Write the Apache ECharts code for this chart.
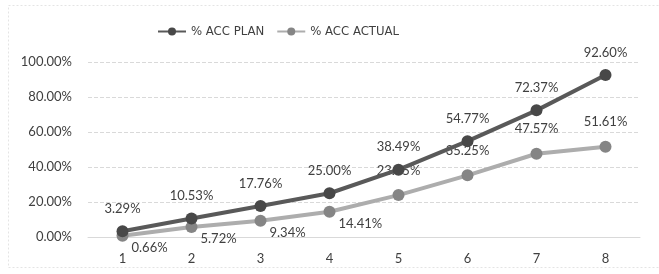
<!DOCTYPE html>
<html>
<head>
<meta charset="utf-8">
<script src="https://cdn.jsdelivr.net/npm/echarts@6/dist/echarts.min.js"></script>
<style>
  html, body { margin: 0; padding: 0; background: #fff; }
  #chart { width: 659px; height: 274px; }
</style>
</head>
<body>
<div id="chart"></div>
<script>
// categories and series values (percent)
const periods = ['1', '2', '3', '4', '5', '6', '7', '8'];
const accPlan = [3.29, 10.53, 17.76, 25.00, 38.49, 54.77, 72.37, 92.60];
const accActual = [0.66, 5.72, 9.34, 14.41, 23.95, 35.25, 47.57, 51.61];
const yTicks = [0, 20, 40, 60, 80, 100];

const FONT = 'Lato';
const fmt = v => v.toFixed(2) + '%';

// actual labels sit right-below for the first points, above afterwards
const actualData = accActual.map((v, i) => ({
    value: v,
    label: i < 4 ? { position: 'right', offset: [-2, 12] } : { position: 'top', distance: 12 }
}));

var chart = echarts.init(document.getElementById('chart'));
chart.setOption({
    backgroundColor: '#fff',
    animation: false,
    textStyle: { fontFamily: FONT },
    graphic: [{
        type: 'rect',
        shape: { x: 8.5, y: 5.5, width: 660, height: 262 },
        style: { fill: 'none', stroke: '#e4e4e4', lineWidth: 1, lineDash: [2, 2] },
        silent: true
    }],
    legend: {
        top: 20,
        left: 152,
        itemWidth: 28,
        itemHeight: 10,
        itemGap: 12,
        textStyle: { fontFamily: '"DejaVu Sans Condensed", ' + FONT, fontSize: 13, color: '#404040' },
        data: ['% ACC PLAN', '% ACC ACTUAL']
    },
    grid: { left: 88, right: 19, top: 62, bottom: 37 },
    xAxis: {
        type: 'category',
        data: periods,
        axisLine: { lineStyle: { color: '#d9d9d9' } },
        axisTick: { show: false },
        axisLabel: { color: '#404040', fontSize: 13, fontFamily: FONT, margin: 15 }
    },
    yAxis: {
        type: 'value',
        min: yTicks[0],
        max: yTicks[yTicks.length - 1],
        interval: yTicks[1] - yTicks[0],
        axisLine: { show: false },
        axisTick: { show: false },
        splitLine: { lineStyle: { color: '#d9d9d9', type: 'dashed' } },
        axisLabel: { color: '#404040', fontSize: 13, fontFamily: FONT, margin: 16, formatter: v => v.toFixed(2) + '%' }
    },
    series: [{
        name: '% ACC PLAN',
        type: 'line',
        data: accPlan,
        symbol: 'circle',
        symbolSize: 12,
        lineStyle: { color: '#595959', width: 4 },
        itemStyle: { color: '#484848' },
        label: { show: true, position: 'top', distance: 10, color: '#404040', fontSize: 13, fontFamily: FONT, formatter: p => fmt(p.value) },
        z: 3
    }, {
        name: '% ACC ACTUAL',
        type: 'line',
        data: actualData,
        symbol: 'circle',
        symbolSize: 12,
        lineStyle: { color: '#adadad', width: 4 },
        itemStyle: { color: '#858585' },
        label: { show: true, color: '#404040', fontSize: 13, fontFamily: FONT, formatter: p => fmt(p.value) },
        z: 2
    }]
});
</script>
</body>
</html>
